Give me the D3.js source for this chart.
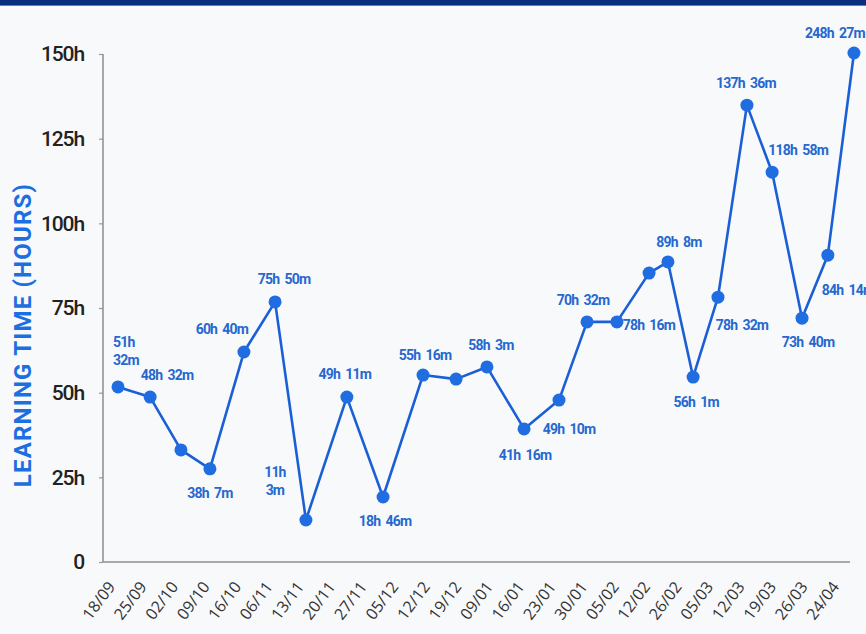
<!DOCTYPE html>
<html>
<head>
<meta charset="utf-8">
<script src="https://cdn.jsdelivr.net/npm/d3@7"></script>
<style>
  html, body { margin: 0; padding: 0; background: #f8f9fb; }
  svg { display: block; }
  .num { font-family: "Roboto", sans-serif; }
</style>
</head>
<body>
<div id="chart"></div>
<script>
// x tick labels (weeks)
const weeks = ['18/09', '25/09', '02/10', '09/10', '16/10', '06/11', '13/11', '20/11', '27/11', '05/12',
    '12/12', '19/12', '09/01', '16/01', '23/01', '30/01', '05/02', '12/02', '26/02', '05/03',
    '12/03', '19/03', '26/03', '24/04'];

// position of each point along the week axis (in week-index units)
const pointPos = [0, 1.02, 2.0, 2.92, 4.0, 4.99, 5.97, 7.27, 8.42, 9.69, 10.74, 11.72, 12.9,
    14.01, 14.9, 15.85, 16.87, 17.47, 18.27, 19.06, 19.98, 20.78, 21.73, 22.55, 23.38];

// learning time in hours (plotted height)
const hours = [51.7, 48.7, 33.1, 27.5, 62.0, 76.8, 12.4, 48.7, 19.2, 55.2, 54.0, 57.6, 39.3,
    47.8, 70.9, 70.9, 85.3, 88.6, 54.6, 78.2, 134.9, 115.1, 72.0, 90.6, 150.3];

// point labels as printed ('' = no label, '|' = line break)
const pointLabels = ['51h|32m', '48h 32m', '', '38h 7m', '60h 40m', '75h 50m', '11h|3m', '49h 11m',
    '18h 46m', '55h 16m', '', '58h 3m', '41h 16m', '49h 10m', '70h 32m', '78h 16m', '',
    '89h 8m', '56h 1m', '78h 32m', '137h 36m', '118h 58m', '73h 40m', '84h 14m', '248h 27m'];

const yTicks = [0, 25, 50, 75, 100, 125, 150];

// label placement relative to its point: [dx, dy, anchor]
const labelPlace = [[-5, -45, 'start'], [17, -22, 'middle'], null, [0, 24, 'middle'], [-22, -23, 'middle'],
    [9, -23, 'middle'], [-31, -48, 'middle'], [-2, -23, 'middle'], [2, 24, 'middle'], [2, -20, 'middle'],
    null, [4, -22, 'middle'], [1, 26, 'middle'], [10, 29, 'middle'], [-4, -22, 'middle'],
    [32, 3, 'middle'], null, [11, -20, 'middle'], [3, 25, 'middle'], [24, 28, 'middle'],
    [-1, -22, 'middle'], [26, -22, 'middle'], [6, 24, 'middle'], [-6, 35, 'start'], [-19, -20, 'middle']];

const W = 866, H = 634;
const svg = d3.select('#chart').append('svg')
    .attr('width', W).attr('height', H);

// top band
svg.append('rect').attr('x', 0).attr('y', 0).attr('width', W).attr('height', 5).attr('fill', '#0b2d80');
svg.append('rect').attr('x', 0).attr('y', 5).attr('width', W).attr('height', 1).attr('fill', '#4f7fd6');

const x = d3.scaleLinear().domain([0, weeks.length - 1]).range([118, 842]);
const y = d3.scaleLinear().domain([0, 150]).range([562, 54]);
const axisLeftX = 103, axisRightX = 850;

// Eje Y
const yAxis = svg.append('g')
    .attr('transform', `translate(${axisLeftX},0)`)
    .call(d3.axisLeft(y).tickValues(yTicks).tickSize(4).tickPadding(15)
        .tickFormat(d => d === 0 ? '0' : d + 'h'));
yAxis.select('.domain').remove();
yAxis.selectAll('line').attr('stroke', '#999').attr('stroke-width', 1.2);
yAxis.selectAll('text')
    .attr('class', 'num')
    .attr('font-size', '21px')
    .attr('font-weight', 500)
    .attr('letter-spacing', '-1.1px')
    .attr('fill', '#222');

// axis lines
svg.append('line')
    .attr('x1', axisLeftX).attr('x2', axisLeftX)
    .attr('y1', y(150)).attr('y2', y(0))
    .attr('stroke', '#8c8c8c').attr('stroke-width', 1.5);
svg.append('line')
    .attr('x1', axisLeftX).attr('x2', axisRightX)
    .attr('y1', y(0)).attr('y2', y(0))
    .attr('stroke', '#8c8c8c').attr('stroke-width', 1.5);

// Eje X (fechas)
svg.append('g').selectAll('text')
    .data(weeks)
    .join('text')
    .attr('transform', (d, i) => `translate(${x(i) - 2},${587}) rotate(-53)`)
    .attr('text-anchor', 'end')
    .attr('font-family', '"Open Sans", sans-serif')
    .attr('font-size', '16px')
    .attr('fill', '#333')
    .text(d => d);

// Título eje Y
svg.append('text')
    .attr('transform', `translate(31,335) rotate(-90)`)
    .attr('text-anchor', 'middle')
    .attr('font-family', 'Roboto, sans-serif')
    .attr('font-weight', 700)
    .attr('font-size', '24px')
    .attr('letter-spacing', '1.2px')
    .attr('fill', '#1b6fe0')
    .text('LEARNING TIME (HOURS)');

const data = hours.map((h, i) => ({ pos: pointPos[i], h, label: pointLabels[i], place: labelPlace[i] }));

// Línea
svg.append('path')
    .datum(data)
    .attr('fill', 'none')
    .attr('stroke', '#1a5fd6')
    .attr('stroke-width', 2.6)
    .attr('stroke-linejoin', 'round')
    .attr('d', d3.line().x(d => x(d.pos)).y(d => y(d.h)));

// Puntos
svg.selectAll('.dot')
    .data(data)
    .join('circle')
    .attr('class', 'dot')
    .attr('cx', d => x(d.pos))
    .attr('cy', d => y(d.h))
    .attr('r', 6.5)
    .attr('fill', '#1f6de0');

// Etiquetas
const lbl = svg.selectAll('.pt-label')
    .data(data.filter(d => d.label))
    .join('text')
    .attr('class', 'pt-label num')
    .attr('x', d => x(d.pos) + d.place[0])
    .attr('y', d => y(d.h) + d.place[1])
    .attr('text-anchor', d => d.place[2])
    .attr('font-size', '14px')
    .attr('font-weight', 700)
    .attr('letter-spacing', '-0.8px')
    .attr('word-spacing', '2.5px')
    .attr('fill', '#2568d0');
lbl.each(function(d) {
    const parts = d.label.split('|');
    const t = d3.select(this);
    parts.forEach((p, k) => {
        t.append('tspan')
            .attr('x', x(d.pos) + d.place[0])
            .attr('dy', k === 0 ? '0.35em' : '1.3em')
            .text(p);
    });
});
</script>
</body>
</html>
